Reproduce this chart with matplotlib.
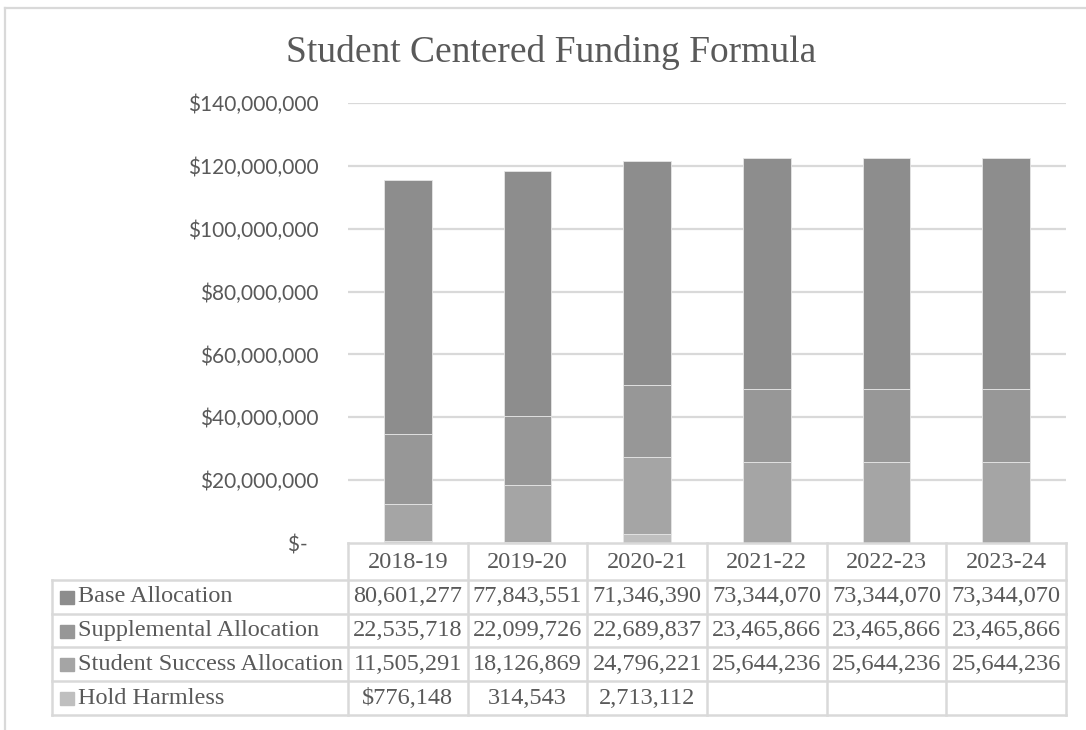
import matplotlib
matplotlib.use("Agg")
import matplotlib.pyplot as plt
from matplotlib.lines import Line2D
from matplotlib.patches import Rectangle
from matplotlib.transforms import blended_transform_factory

years = ["2018-19", "2019-20", "2020-21", "2021-22", "2022-23", "2023-24"]
base = [80601277, 77843551, 71346390, 73344070, 73344070, 73344070]
supplemental = [22535718, 22099726, 22689837, 23465866, 23465866, 23465866]
success = [11505291, 18126869, 24796221, 25644236, 25644236, 25644236]
hold = [776148, 314543, 2713112, 0, 0, 0]
series_names = ["Base Allocation", "Supplemental Allocation",
                "Student Success Allocation", "Hold Harmless"]
yticks = [0, 20e6, 40e6, 60e6, 80e6, 100e6, 120e6, 140e6]

C_BASE = "#8d8d8d"; C_SUPP = "#979797"; C_SUCC = "#a5a5a5"; C_HOLD = "#bfbfbf"
GRID = "#d9d9d9"; TXT = "#595959"
SERIF = "Liberation Serif"

W, H = 1086, 730
fig = plt.figure(figsize=(W / 100, H / 100), dpi=100)
fig.patch.set_facecolor("white")
ax = fig.add_axes([348 / W, 1 - 543 / H, 718 / W, 440 / H])

x = list(range(len(years)))
bw = 0.4
kw = dict(width=bw, edgecolor="#e6e6e6", linewidth=0.6, zorder=3)
ax.bar(x, hold, color=C_HOLD, **kw)
b1 = [h for h in hold]
ax.bar(x, success, bottom=b1, color=C_SUCC, **kw)
b2 = [a + b for a, b in zip(b1, success)]
ax.bar(x, supplemental, bottom=b2, color=C_SUPP, **kw)
b3 = [a + b for a, b in zip(b2, supplemental)]
ax.bar(x, base, bottom=b3, color=C_BASE, **kw)

ax.set_xlim(-0.5, len(years) - 0.5)
ax.set_ylim(0, 140e6)
ax.set_yticks(yticks)
ax.set_yticklabels([("$-  " if v == 0 else f"${int(v):,}") for v in yticks],
                   family="Lato", fontsize=15, color=TXT)
ax.tick_params(axis="y", length=0, pad=21)
ax.set_xticks([])
for v in yticks[1:]:
    ax.axhline(v, color=GRID, lw=1.6, zorder=1)
for s in ax.spines.values():
    s.set_visible(False)

fig.text(551 / W, 1 - 53 / H, "Student Centered Funding Formula", family=SERIF,
         fontsize=27, color=TXT, ha="center", va="center")

# data table below the axis
tr = blended_transform_factory(ax.transData, fig.transFigure)
def fy(p):
    return 1 - p / H
row_edges = [543, 580, 614, 647, 681, 715]
xl = -0.5 - 296 / (718 / 6)
lkw = dict(color=GRID, lw=1.8, transform=tr, clip_on=False)
# horizontal lines
fig.add_artist(Line2D([-0.5, 5.5], [fy(row_edges[0])] * 2, **lkw))
for r in row_edges[1:]:
    fig.add_artist(Line2D([xl, 5.5], [fy(r)] * 2, **lkw))
# vertical lines
for i in range(len(years) + 1):
    fig.add_artist(Line2D([i - 0.5, i - 0.5], [fy(543), fy(715)], **lkw))
fig.add_artist(Line2D([xl, xl], [fy(580), fy(715)], **lkw))

tkw = dict(family=SERIF, fontsize=17.5, color=TXT, transform=tr, va="center")
for i, yr in enumerate(years):
    fig.text(i, fy(562), yr, ha="center", **tkw)

rows = [base, supplemental, success, hold]
colors = [C_BASE, C_SUPP, C_SUCC, C_HOLD]
for r, (name, vals, c) in enumerate(zip(series_names, rows, colors)):
    yc = (row_edges[r + 1] + row_edges[r + 2]) / 2
    fig.add_artist(Rectangle((60 / W, fy(yc + 7)), 14 / W, 13 / H, color=c,
                             transform=fig.transFigure))
    fig.text(78 / W, fy(yc), name, family=SERIF, fontsize=17.5, color=TXT,
             va="center", ha="left")
    for i, v in enumerate(vals):
        if v == 0:
            continue
        s = f"{v:,}"
        if r == 3 and i == 0:
            s = "$" + s
        fig.text(i, fy(yc), s, ha="center", **tkw)

# outer chart frame
fig.add_artist(Line2D([5 / W, 5 / W], [fy(8), 0], color=GRID, lw=1.6,
                      transform=fig.transFigure))
fig.add_artist(Line2D([5 / W, 1], [fy(8), fy(8)], color=GRID, lw=1.6,
                      transform=fig.transFigure))

fig.savefig("out.png", dpi=100)
